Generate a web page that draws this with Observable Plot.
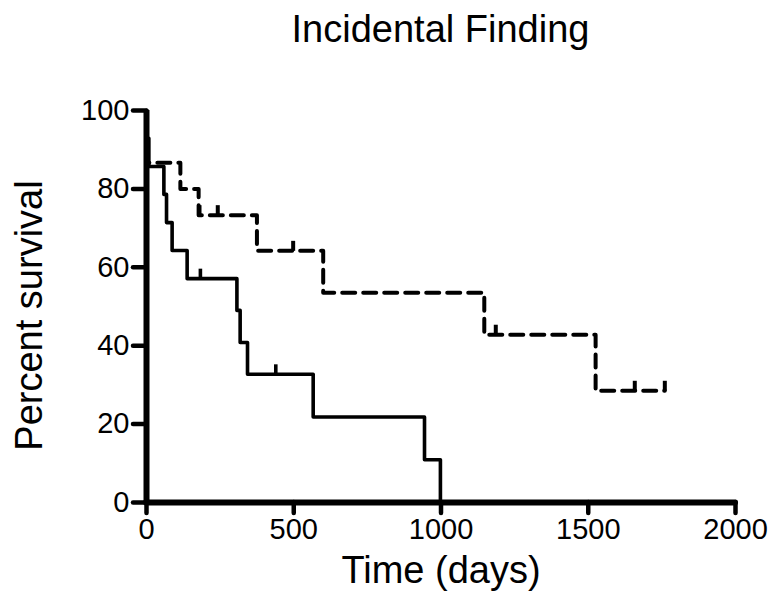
<!DOCTYPE html>
<html><head><meta charset="utf-8">
<script src="https://cdn.jsdelivr.net/npm/d3@7"></script>
<script src="https://cdn.jsdelivr.net/npm/@observablehq/plot@0.6"></script>
<style>
body{margin:0;background:#fff;font-family:"Liberation Sans",Arial,sans-serif;}
#title{width:771px;box-sizing:border-box;padding-left:110px;text-align:center;font-size:38px;line-height:38px;height:60px;padding-top:10px;color:#000}
</style></head><body>
<div id="title">Incidental Finding</div>
<div id="chart"></div>
<script>
// Solid curve (group 1)
const solidTime = [0, 2, 8, 59, 68, 87, 138, 307, 318, 343, 566, 944, 998];
const solidSurv = [100, 92.9, 85.7, 78.6, 71.4, 64.3, 57.1, 49.0, 40.8, 32.7, 21.8, 10.9, 0];
const solidCensorTime = [183, 439];
const solidCensorSurv = [57.1, 32.7];
// Dashed curve (group 2)
const dashTime = [0, 0, 115, 177, 375, 600, 1147, 1525, 1760];
const dashSurv = [100, 86.7, 80.0, 73.3, 64.2, 53.5, 42.8, 28.5, 28.5];
const dashCensorTime = [180, 242, 498, 1186, 1658, 1760];
const dashCensorSurv = [73.3, 73.3, 64.2, 42.8, 28.5, 28.5];
// Axes
const xTicks = [0, 500, 1000, 1500, 2000];
const yTicks = [0, 20, 40, 60, 80, 100];
const xLabel = "Time (days)";
const yLabel = "Percent survival";

const zip = (ts, ss) => ts.map((t, i) => ({t, s: ss[i]}));
const solid = zip(solidTime, solidSurv);
const dashed = zip(dashTime, dashSurv);
const solidCens = zip(solidCensorTime, solidCensorSurv);
const dashCens = zip(dashCensorTime, dashCensorSurv);

const censorSymbol = {draw(ctx, size) { const l = Math.sqrt(size / Math.PI); ctx.moveTo(0, 0); ctx.lineTo(0, -l); }};

const chart = Plot.plot({
  width: 771,
  height: 535,
  marginLeft: 146,
  marginRight: 36,
  marginTop: 50,
  marginBottom: 93,
  style: {fontFamily: '"Liberation Sans", Arial, sans-serif', background: "#fff", color: "#000", overflow: "visible"},
  x: {domain: [0, 2000]},
  y: {domain: [0, 100]},
  marks: [
    Plot.line(solid, {x: "t", y: "s", curve: "step-after", stroke: "#000", strokeWidth: 3.6}),
    Plot.line(dashed, {x: "t", y: "s", curve: "step-after", stroke: "#000", strokeWidth: 4, strokeDasharray: "13,8"}),
    Plot.dot(solidCens, {x: "t", y: "s", symbol: censorSymbol, r: 10, stroke: "#000", fill: "none", strokeWidth: 3.6}),
    Plot.dot(dashCens, {x: "t", y: "s", symbol: censorSymbol, r: 10, stroke: "#000", fill: "none", strokeWidth: 4}),
    Plot.ruleY([0], {stroke: "#000", strokeWidth: 6, strokeLinecap: "round"}),
    Plot.ruleX([0], {stroke: "#000", strokeWidth: 6}),
    Plot.axisX({ticks: xTicks, tickSize: 11, tickPadding: 5, fontSize: 29, strokeWidth: 4.5, strokeLinecap: "round", label: null, tickFormat: d => String(d)}),
    Plot.axisY({ticks: yTicks, tickSize: 13, tickPadding: 4, fontSize: 29, strokeWidth: 4.5, strokeLinecap: "round", label: null, tickFormat: d => String(d)}),
    Plot.text([xLabel], {text: d => d, frameAnchor: "bottom", textAnchor: "middle", lineAnchor: "bottom", dy: 80, fontSize: 38, fill: "#000"}),
    Plot.text([yLabel], {text: d => d, frameAnchor: "left", textAnchor: "middle", lineAnchor: "top", rotate: -90, dx: -131, dy: 9, fontSize: 38, fill: "#000"})
  ]
});
document.getElementById("chart").appendChild(chart);
</script>
</body></html>
